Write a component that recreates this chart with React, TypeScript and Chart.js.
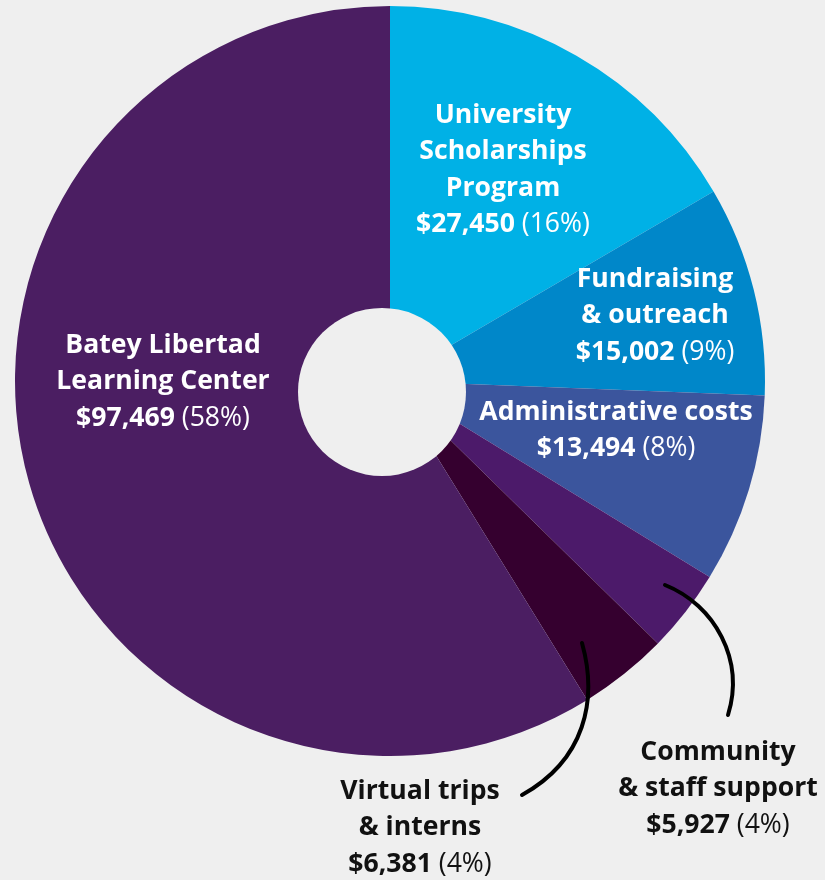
import React, { useEffect, useRef } from "react";
import { Chart, registerables } from "chart.js";

Chart.register(...registerables);

// ---- data ----
const categories: string[][] = [
  ["University", "Scholarships", "Program"],
  ["Fundraising", "& outreach"],
  ["Administrative costs"],
  ["Community", "& staff support"],
  ["Virtual trips", "& interns"],
  ["Batey Libertad", "Learning Center"],
];
const amounts: number[] = [27450, 15002, 13494, 5927, 6381, 97469];
const percentLabels: string[] = ["16%", "9%", "8%", "4%", "4%", "58%"];

// ---- styles ----
const BG = "#EFEFEF";
const sliceColors = ["#00B1E6", "#0087C9", "#3B559D", "#4C1A6A", "#35002F", "#4B1E62"];
const FONT_FAMILY = '"Open Sans", "Noto Sans", sans-serif';
const FONT_SIZE = 26.6;
const LINE_HEIGHT = 36.4;
const REF_R = 375;

// label anchor offsets from the pie centre (at reference radius)
const labelLayout = [
  { dx: 113, dy: -258, color: "#FFFFFF" },
  { dx: 265, dy: -94, color: "#FFFFFF" },
  { dx: 226, dy: 39, color: "#FFFFFF" },
  { dx: 328, dy: 379, color: "#111111" },
  { dx: 30, dy: 418, color: "#111111" },
  { dx: -227, dy: -28, color: "#FFFFFF" },
];

// leader curves (cubic) for outside labels, offsets from centre
const leaders: number[][][] = [
  [[275, 204], [325, 224], [355, 279], [338, 334]],
  [[192, 262], [208, 319], [195, 379], [132, 414]],
];

const hole = { dx: -8, dy: 11, r: 84 };

const fmt = (n: number) => "$" + n.toLocaleString("en-US");

const labelPlugin = {
  id: "sliceLabels",
  afterDatasetsDraw(chart: any) {
    const meta = chart.getDatasetMeta(0);
    const arc = meta.data[0];
    if (!arc) return;
    const { x: cx, y: cy, outerRadius } = arc.getProps(["x", "y", "outerRadius"], true);
    const s = outerRadius / REF_R;
    const ctx: CanvasRenderingContext2D = chart.ctx;
    ctx.save();

    // off-centre hole
    ctx.fillStyle = BG;
    ctx.beginPath();
    ctx.arc(cx + hole.dx * s, cy + hole.dy * s, hole.r * s, 0, Math.PI * 2);
    ctx.fill();

    // leader lines
    ctx.strokeStyle = "#000000";
    ctx.lineWidth = 4;
    ctx.lineCap = "round";
    leaders.forEach((p) => {
      ctx.beginPath();
      ctx.moveTo(cx + p[0][0] * s, cy + p[0][1] * s);
      ctx.bezierCurveTo(
        cx + p[1][0] * s, cy + p[1][1] * s,
        cx + p[2][0] * s, cy + p[2][1] * s,
        cx + p[3][0] * s, cy + p[3][1] * s
      );
      ctx.stroke();
    });

    // labels
    const bold = `bold ${FONT_SIZE}px ${FONT_FAMILY}`;
    const reg = `${FONT_SIZE}px ${FONT_FAMILY}`;
    ctx.textBaseline = "alphabetic";
    categories.forEach((lines, i) => {
      const lay = labelLayout[i];
      const x = cx + lay.dx * s;
      let y = cy + lay.dy * s;
      ctx.fillStyle = lay.color;
      ctx.textAlign = "center";
      ctx.font = bold;
      lines.forEach((ln) => {
        ctx.fillText(ln, x, y);
        y += LINE_HEIGHT;
      });
      const a = fmt(amounts[i]);
      const b = " (" + percentLabels[i] + ")";
      ctx.font = bold;
      const w1 = ctx.measureText(a).width;
      ctx.font = reg;
      const w2 = ctx.measureText(b).width;
      const x0 = x - (w1 + w2) / 2;
      ctx.textAlign = "left";
      ctx.font = bold;
      ctx.fillText(a, x0, y);
      ctx.font = reg;
      ctx.fillText(b, x0 + w1, y);
    });
    ctx.restore();
  },
};

export default function App() {
  const ref = useRef<HTMLCanvasElement | null>(null);
  useEffect(() => {
    document.body.style.margin = "0";
    document.body.style.background = BG;
    const canvas = ref.current;
    if (!canvas) return;
    const chart = new Chart(canvas, {
      type: "pie",
      data: {
        labels: categories.map((c) => c.join(" ")),
        datasets: [
          {
            data: amounts,
            backgroundColor: sliceColors,
            borderWidth: 0,
            hoverOffset: 0,
          },
        ],
      },
      options: {
        responsive: false,
        maintainAspectRatio: false,
        animation: false,
        devicePixelRatio: 1,
        events: [],
        layout: { padding: { left: 15, right: 60, top: 6, bottom: 124 } },
        plugins: {
          legend: { display: false },
          tooltip: { enabled: false },
        },
      },
      plugins: [labelPlugin],
    });
    return () => chart.destroy();
  }, []);
  return (
    <div style={{ position: "fixed", left: 0, top: 0, width: 825, height: 880, background: BG }}>
      <canvas ref={ref} width={825} height={880} style={{ display: "block", width: 825, height: 880 }} />
    </div>
  );
}
